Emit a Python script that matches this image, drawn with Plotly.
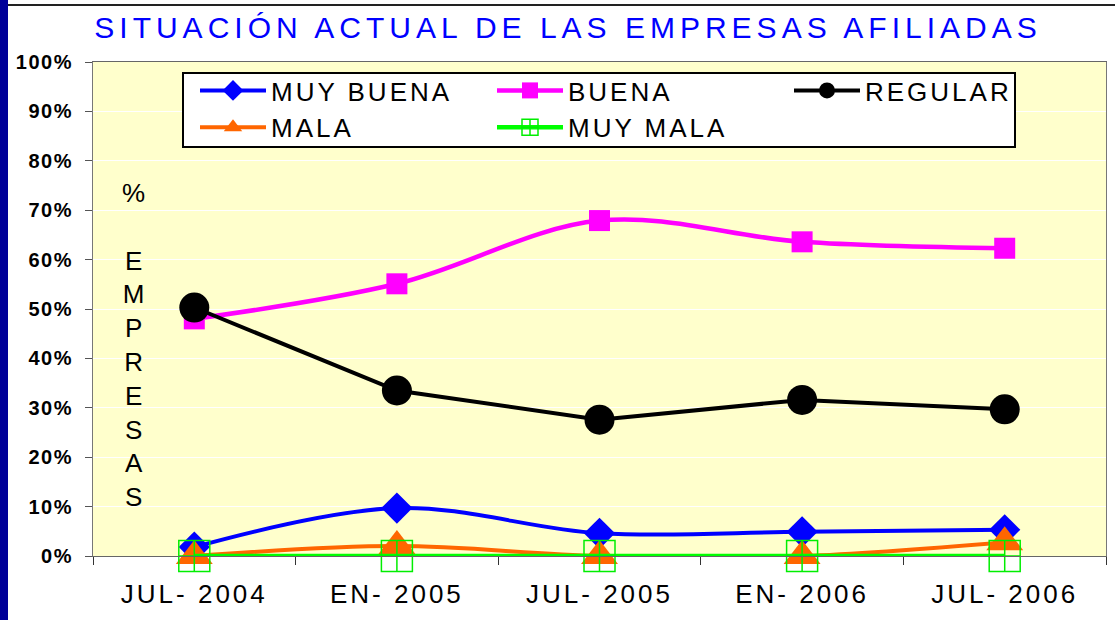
import plotly.graph_objects as go

# ---- data ----
categories = ["JUL- 2004", "EN- 2005", "JUL- 2005", "EN- 2006", "JUL- 2006"]
muy_buena = [1.8, 9.7, 4.6, 4.9, 5.3]
buena = [48.0, 55.1, 67.9, 63.6, 62.3]
regular = [50.3, 33.5, 27.6, 31.6, 29.7]
mala = [0.0, 2.0, 0.0, 0.0, 2.8]
muy_mala = [0.0, 0.0, 0.0, 0.0, 0.0]
y_ticks = list(range(0, 101, 10))
y_tick_labels = [f"{v}%" for v in y_ticks]

W, H = 1115, 620
ML, MR, MT, MB = 93, 9, 62, 64
PW, PH = W - ML - MR, H - MT - MB


def px2x(px):
    return (px - ML) / PW


def py2y(py):
    return (H - MB - py) / PH


FONT = "Liberation Sans, Arial, sans-serif"

fig = go.Figure()

fig.add_trace(go.Scatter(
    x=categories, y=muy_buena, name="MUY BUENA", mode="lines+markers",
    line=dict(color="#0000FF", width=4, shape="spline"),
    marker=dict(symbol="diamond", size=24, color="#0000FF"),
    cliponaxis=False))
fig.add_trace(go.Scatter(
    x=categories, y=buena, name="BUENA", mode="lines+markers",
    line=dict(color="#FF00FF", width=4.5, shape="spline"),
    marker=dict(symbol="square", size=21, color="#FF00FF"),
    cliponaxis=False))
fig.add_trace(go.Scatter(
    x=categories, y=regular, name="REGULAR", mode="lines+markers",
    line=dict(color="#000000", width=4),
    marker=dict(symbol="circle", size=30, color="#000000"),
    cliponaxis=False))
fig.add_trace(go.Scatter(
    x=categories, y=mala, name="MALA", mode="lines+markers",
    line=dict(color="#FF6600", width=4, shape="spline"),
    marker=dict(symbol="triangle-up", size=32, color="#FF6600"),
    cliponaxis=False))
fig.add_trace(go.Scatter(
    x=categories, y=muy_mala, name="MUY MALA", mode="lines+markers",
    line=dict(color="#00FF00", width=4.5),
    marker=dict(symbol="square-cross-open", size=31, color="#00EE00",
                line=dict(width=1.5)),
    cliponaxis=False))

fig.update_layout(
    width=W, height=H, autosize=False,
    margin=dict(l=ML, r=MR, t=MT, b=MB, pad=0),
    paper_bgcolor="white",
    plot_bgcolor="#FFFFCC",
    font=dict(family=FONT, color="black"),
    title=dict(
        text="SITUACIÓN ACTUAL DE LAS EMPRESAS AFILIADAS",
        font=dict(family=FONT, size=30, color="#0000FF"),
        xref="container", yref="container",
        x=568 / W, y=1 - 27 / H, xanchor="center", yanchor="middle"),
    showlegend=True,
    legend=dict(
        orientation="h",
        x=px2x(195), y=py2y(67), xanchor="left", yanchor="top",
        bgcolor="rgba(0,0,0,0)", borderwidth=0,
        font=dict(family=FONT, size=26, color="black"),
        itemwidth=66, entrywidth=216, entrywidthmode="pixels",
        itemclick=False, itemdoubleclick=False,
    ),
    xaxis=dict(
        type="category", categoryorder="array", categoryarray=categories,
        range=[-0.5, len(categories) - 0.5], autorange=False,
        showgrid=False, zeroline=False,
        showline=True, linecolor="#666666", linewidth=1, mirror=True,
        ticks="outside", tickson="boundaries", ticklen=8, tickcolor="#333333",
        tickfont=dict(family=FONT, size=26, color="black"),
        ticklabelstandoff=15,
    ),
    yaxis=dict(
        range=[0, 100], autorange=False,
        tickmode="array", tickvals=y_ticks, ticktext=y_tick_labels,
        showgrid=True, gridcolor="white", gridwidth=1, zeroline=False,
        showline=True, linecolor="#777777", linewidth=1, mirror=True,
        ticks="outside", ticklen=7, tickcolor="#555555",
        tickfont=dict(family="Liberation Sans, Arial", size=20, color="black",
                      weight=700),
        ticklabelstandoff=8,
    ),
    annotations=[dict(
        text="%<br><br>E<br>M<br>P<br>R<br>E<br>S<br>A<br>S",
        xref="paper", yref="paper", x=px2x(133), y=py2y(345),
        xanchor="center", yanchor="middle", showarrow=False,
        font=dict(family=FONT, size=26, color="black"), align="center")],
    shapes=[
        dict(type="rect", xref="paper", yref="paper",
             x0=px2x(0), x1=px2x(8), y0=py2y(H), y1=py2y(0),
             fillcolor="#000099", line=dict(width=0), layer="above"),
        dict(type="line", xref="paper", yref="paper",
             x0=px2x(8), x1=px2x(W), y0=py2y(5), y1=py2y(5),
             line=dict(color="#222222", width=2), layer="above"),
        dict(type="rect", xref="paper", yref="paper",
             x0=px2x(183), x1=px2x(1015), y0=py2y(147), y1=py2y(73),
             fillcolor="white", line=dict(color="black", width=2), layer="above"),
    ],
)

post = """
document.documentElement.style.margin='0';
document.body.style.margin='0';
document.body.style.padding='0';
var gd = document.getElementById('{plot_id}');
function ls(){
  gd.querySelectorAll('.gtitle').forEach(function(e){e.style.letterSpacing='5px';});
  gd.querySelectorAll('.xtick text').forEach(function(e){e.style.letterSpacing='3px';});
  gd.querySelectorAll('.legendtext').forEach(function(e){e.style.letterSpacing='3px';});
  gd.querySelectorAll('.ytick text').forEach(function(e){e.style.letterSpacing='1.5px';});
}
ls();
gd.on('plotly_afterplot', ls);
"""

fig.write_html("out.html", post_script=post, config={"displayModeBar": False})
